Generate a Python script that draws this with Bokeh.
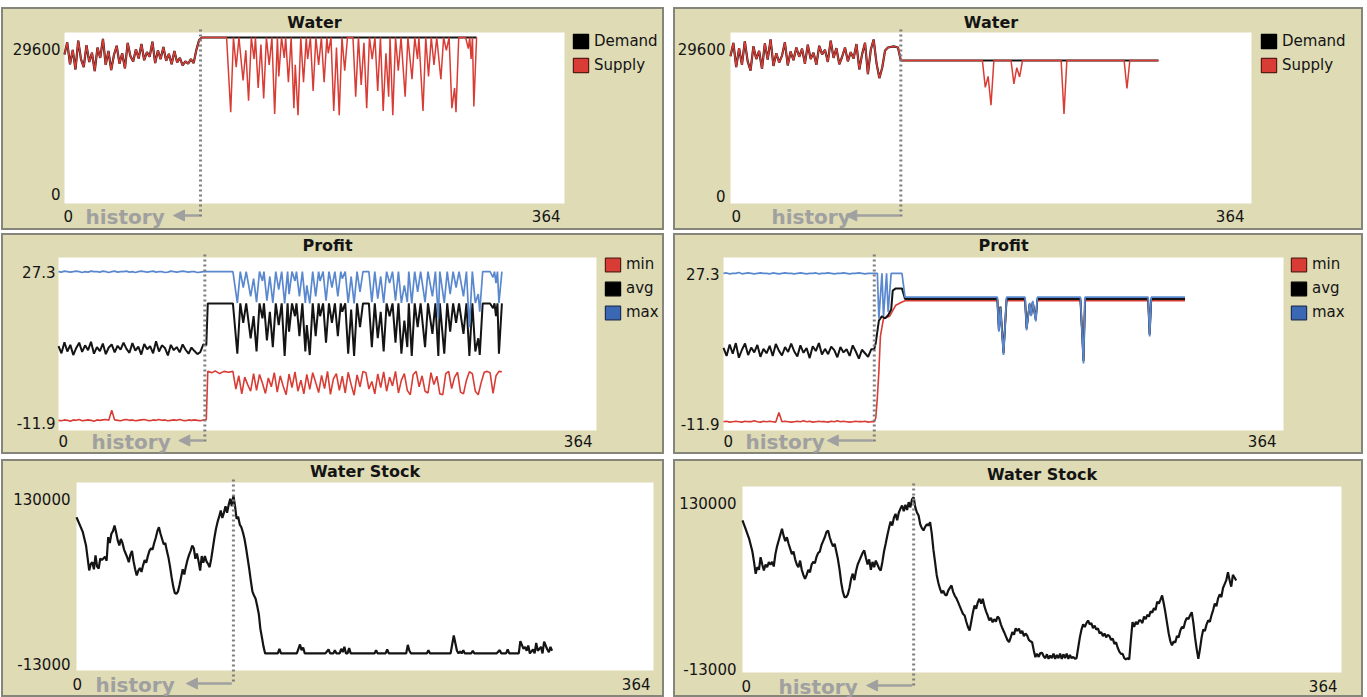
from bokeh.plotting import figure
from bokeh.layouts import column, row
from bokeh.models import (Range1d, Label, Arrow, NormalHead, Legend, LegendItem,
                          BoxAnnotation, Spacer)
from bokeh.embed import file_html
from bokeh.resources import INLINE

X_MAX = 364
x_ticks = [0, 364]

# ---------------- Water (run A) ----------------
water_y_ticks = [0, 29600]
water_hist_days_A = list(range(0, 100, 2))
water_hist_A = [25800, 27900, 24100, 26600, 23200, 28200, 25000, 23600, 27400, 24500,
                26100, 22900, 27000, 25200, 28500, 24000, 26400, 23100, 25700, 27300,
                24200, 26000, 23400, 27800, 25500, 24600, 26700, 25100, 27600, 24800,
                26200, 25400, 28000, 24300, 26500, 25000, 27100, 24700, 25900, 24100,
                26400, 24400, 25200, 23900, 24600, 24200, 25000, 24300, 26600, 28300]
demand_days_A = [100, 300]
demand_A = [28735, 28735]
supply_days_A = [100, 118, 121, 123, 125, 127, 130, 132, 134, 136, 138, 139, 141, 143, 145, 147,
                 149, 151, 153, 155, 156, 158, 160, 161, 163, 165, 167, 168, 170, 172, 174, 176,
                 177, 179, 181, 183, 185, 187, 189, 191, 192, 194, 196, 198, 200, 202, 204, 206,
                 210, 212, 214, 216, 218, 220, 222, 224, 226, 228, 230, 232, 234, 236, 237, 239,
                 241, 243, 245, 248, 250, 253, 255, 257, 258, 261, 263, 265, 267, 269, 271, 274,
                 276, 278, 280, 282, 284, 285, 287, 292, 294, 295, 296, 297, 298, 300]
supply_A = [28735, 28735, 15800, 28735, 23600, 28735, 21300, 26500, 17800, 28735, 25000, 28735,
            20000, 27500, 18200, 28735, 24000, 28735, 15500, 28735, 22000, 28735, 25200, 28735,
            21000, 28735, 16500, 24000, 15300, 28735, 21000, 28735, 25000, 28735, 19500, 28735,
            24000, 28735, 21000, 28735, 26000, 28735, 16000, 27000, 15300, 28735, 23000, 28735,
            28735, 18500, 28735, 20500, 27800, 16500, 28735, 25000, 28735, 19500, 28735, 16000,
            26000, 18500, 28735, 15300, 28735, 23000, 28735, 18500, 28735, 21500, 28735, 25000,
            28735, 16000, 28735, 22000, 28735, 24000, 28735, 21500, 28735, 26500, 28735, 16500,
            20000, 15800, 28735, 28735, 26800, 28735, 25000, 28735, 16800, 28735]

# ---------------- Water (run B) ----------------
water_hist_days_B = list(range(0, 106, 2))
water_hist_B = [25500, 27800, 23600, 26900, 24000, 28100, 24600, 23000, 27200, 25000,
                26400, 23300, 27700, 24900, 28400, 23800, 26000, 24400, 25600, 27900,
                23900, 26300, 24800, 27000, 25400, 26800, 24200, 27500, 25000, 26100,
                24000, 27300, 25800, 26600, 24500, 28200, 25200, 26900, 24100, 25400,
                27000, 24600, 26200, 25100, 27600, 23200, 25900, 27800, 22400, 26600,
                28400, 24300, 21700]
demand_days_B = [106, 108, 110, 114, 117, 119, 299]
demand_B = [23500, 26500, 27000, 27200, 27000, 24750, 24750]
supply_days_B = [106, 108, 110, 114, 117, 119, 176, 178, 180, 182, 184, 196, 198, 200, 202,
                 204, 231, 233, 235, 275, 277, 279, 299]
supply_B = [23500, 26500, 27000, 27200, 27000, 24750, 24750, 20100, 22000, 17000, 24750,
            24750, 20700, 23500, 21900, 24750, 24750, 15500, 24750, 24750, 19900, 24750, 24750]

# ---------------- Profit (run A) ----------------
profit_y_ticks = [-11.9, 27.3]
profit_hist_days_A = list(range(0, 100, 2))
max_hist_A = [24.1, 24.0, 24.2, 24.1, 24.0, 24.1, 24.2, 24.1, 23.9, 24.1, 24.0, 24.2, 24.1,
              24.1, 24.0, 24.2, 24.1, 23.9, 24.1, 24.2, 24.0, 24.1, 24.1, 24.2, 24.0, 24.1,
              23.9, 24.1, 24.2, 24.1, 24.0, 24.1, 24.2, 24.0, 24.1, 24.1, 23.9, 24.0, 24.2,
              24.1, 24.0, 24.1, 24.2, 24.1, 24.0, 24.1, 24.1, 23.9, 24.0, 24.1]
avg_hist_A = [7.2, 5.6, 8.1, 6.0, 7.5, 5.2, 6.8, 8.0, 5.9, 7.4, 6.3, 8.2, 5.5, 7.0, 6.1, 7.8,
              5.4, 6.9, 7.6, 5.8, 7.3, 6.4, 8.0, 6.6, 5.7, 7.9, 6.2, 7.1, 5.3, 7.7, 6.5, 7.2,
              5.6, 8.3, 6.0, 7.4, 6.8, 5.1, 7.5, 6.3, 7.0, 5.8, 7.6, 6.4, 5.5, 6.9, 6.1, 5.4,
              5.9, 7.6]
min_hist_A = [-9.6, -9.7, -9.5, -9.6, -9.8, -9.5, -9.6, -9.4, -9.7, -9.6, -9.5, -9.6, -9.8,
              -9.5, -9.6, -9.5, -9.4, -9.6, -7.3, -9.5, -9.6, -9.7, -9.5, -9.4, -9.6, -9.5,
              -9.7, -9.6, -9.5, -9.4, -9.6, -9.7, -9.5, -9.6, -9.4, -9.6, -9.5, -9.7, -9.6,
              -9.5, -9.6, -9.4, -9.6, -9.7, -9.5, -9.6, -9.5, -9.6, -9.7, -9.5]
dip_days_A = [100, 118, 121, 123, 125, 127, 130, 132, 134, 136, 138, 139, 141, 143, 145, 147,
              149, 151, 153, 155, 156, 158, 160, 161, 163, 165, 167, 168, 170, 172, 174, 176,
              177, 179, 181, 183, 185, 187, 189, 191, 192, 194, 196, 198, 200, 202, 204, 206,
              210, 212, 214, 216, 218, 220, 222, 224, 226, 228, 230, 232, 234, 236, 237, 239,
              241, 243, 245, 248, 250, 253, 255, 257, 258, 261, 263, 265, 267, 269, 271, 274,
              276, 278, 280, 282, 284, 285, 287, 292, 294, 295, 296, 297, 298, 300]
max_A = [24.1, 24.1, 17.0, 24.1, 20.5, 24.1, 18.5, 22.5, 17.2, 24.1, 22.0, 24.1, 17.5, 23.0,
         17.0, 24.1, 20.0, 24.1, 16.9, 24.1, 19.0, 24.1, 22.0, 24.1, 18.5, 24.1, 17.0, 21.0,
         16.9, 24.1, 18.5, 24.1, 22.0, 24.1, 17.5, 24.1, 20.5, 24.1, 18.5, 24.1, 22.5, 24.1,
         17.0, 23.0, 16.9, 24.1, 19.5, 24.1, 24.1, 17.2, 24.1, 18.0, 23.0, 17.0, 24.1, 21.5,
         24.1, 17.5, 24.1, 17.0, 21.0, 17.2, 24.1, 16.9, 24.1, 19.5, 24.1, 17.2, 24.1, 18.5,
         24.1, 13.5, 24.1, 17.0, 24.1, 19.0, 24.1, 20.5, 24.1, 18.5, 24.1, 11.5, 24.1, 17.0,
         19.0, 15.0, 24.1, 24.1, 22.8, 24.1, 21.5, 24.1, 17.0, 24.1]
avg_days_A = [100, 101] + dip_days_A[1:]
avg_A = [7.4, 16.9, 16.9, 5.5, 16.9, 12.5, 16.9, 9.0, 14.0, 6.0, 16.9, 13.5, 16.9, 8.5, 15.0,
         7.0, 16.9, 12.0, 16.9, 5.0, 16.9, 10.5, 16.9, 14.0, 16.9, 9.5, 16.9, 6.0, 12.0, 5.2,
         16.9, 9.5, 16.9, 14.0, 16.9, 8.0, 16.9, 12.5, 16.9, 9.5, 16.9, 15.0, 16.9, 5.5, 15.5,
         5.0, 16.9, 11.5, 16.9, 16.9, 7.0, 16.9, 9.0, 15.0, 6.0, 16.9, 14.0, 16.9, 8.0, 16.9,
         5.5, 13.0, 7.0, 16.9, 5.0, 16.9, 11.5, 16.9, 7.0, 16.9, 10.0, 16.9, 5.0, 16.9, 5.5,
         16.9, 10.5, 16.9, 12.5, 16.9, 10.0, 16.9, 5.0, 16.9, 6.0, 9.0, 5.2, 16.9, 16.9, 15.8,
         16.9, 14.0, 16.9, 5.5, 16.9]
min_days_A = [100, 101, 104, 106, 109, 112, 115, 118] + list(range(120, 302, 2))
min_A = [-9.4, 1.5, 1.2, 1.6, 1.0, 1.5, 1.3, 1.5,
         -2.5, 0.5, -3.6, 0.2, -1.5, -3.0, 1.0, -2.8, 0.8, -1.2, -3.5, 0.0, -2.0, 1.2, -3.2,
         0.5, -1.8, -3.8, 0.9, -2.2, 1.4, -3.0, -0.5, -3.6, 0.8, -2.6, 1.2, -1.0, -3.3, 0.6,
         -2.4, 1.5, -3.7, -0.2, 1.0, -2.8, 0.4, -3.4, 1.3, -1.5, -3.9, 0.7, -2.0, 1.5, 1.2,
         -2.5, -0.8, -3.6, 0.9, -2.2, 1.4, -3.0, 0.2, -1.8, 1.5, -3.4, -0.5, 1.0, -2.8, -3.8,
         0.8, 1.5, -2.0, 0.5, -3.0, -3.4, 1.2, -1.5, 0.4, -3.6, -3.8, 1.0, 1.5, -2.4, 0.2,
         1.3, -3.2, -3.6, -0.5, 1.4, 1.0, -3.0, -3.8, -1.0, 1.3, 1.5, 1.2, -3.5, 0.5, 1.5, 1.4]

# ---------------- Profit (run B) ----------------
profit_hist_days_B = list(range(0, 98, 2))
max_hist_B = [23.7, 23.8, 23.6, 23.7, 23.7, 23.9, 23.6, 23.7, 23.8, 23.7, 23.6, 23.7, 23.8,
              23.7, 23.7, 23.6, 23.8, 23.7, 23.6, 23.7, 23.8, 23.7, 23.7, 23.6, 23.7, 23.8,
              23.7, 23.6, 23.7, 23.7, 23.8, 23.6, 23.7, 23.7, 23.8, 23.7, 23.6, 23.7, 23.7,
              23.8, 23.7, 23.6, 23.7, 23.7, 23.8, 23.7, 23.6, 23.7, 23.7]
avg_hist_B = [6.8, 5.0, 7.6, 5.5, 7.9, 4.6, 6.4, 7.8, 5.2, 6.9, 5.8, 7.5, 4.8, 6.6, 5.6, 7.3,
              5.0, 7.7, 6.2, 5.1, 7.0, 5.9, 7.8, 6.0, 4.9, 7.4, 5.7, 6.8, 4.5, 7.2, 6.1, 7.9,
              5.3, 6.6, 5.4, 7.1, 6.3, 4.7, 7.0, 5.8, 6.5, 5.0, 7.4, 6.0, 4.4, 6.4, 5.6, 4.8,
              6.5]
min_hist_B = [-9.9, -9.8, -10.0, -9.9, -9.8, -9.9, -10.0, -9.8, -9.9, -9.9, -9.7, -9.9, -10.0,
              -9.8, -9.9, -9.8, -9.9, -10.0, -7.8, -9.9, -9.8, -9.9, -10.0, -9.9, -9.8, -9.9,
              -9.7, -9.9, -9.8, -10.0, -9.9, -9.8, -9.9, -9.9, -10.0, -9.8, -9.9, -9.7, -9.9,
              -9.8, -9.9, -10.0, -9.9, -9.8, -9.9, -9.9, -9.8, -10.0, -9.9]
max_days_B = [98, 100, 101, 103, 104, 106, 107, 109, 116, 118, 178, 179, 180, 182, 184, 196,
              197, 199, 200, 201, 203, 204, 232, 234, 235, 276, 277, 278, 300]
max_B = [23.7, 23.7, 13.5, 23.7, 14.0, 23.7, 15.0, 23.7, 23.7, 18.3, 18.3, 10.5, 16.0, 5.2,
         18.3, 18.3, 10.8, 17.0, 14.0, 17.5, 12.8, 18.3, 18.3, 3.3, 18.3, 18.3, 9.4, 18.3, 18.3]
avg_days_B = [98, 99, 100, 101, 103, 105, 107, 109, 110, 112, 116, 118, 178, 179, 180, 182,
              184, 196, 197, 199, 200, 201, 203, 204, 232, 234, 235, 276, 277, 278, 300]
avg_B = [6.5, 8.0, 10.5, 13.0, 14.0, 13.5, 14.2, 15.5, 19.8, 20.3, 20.3, 17.9, 17.9, 10.8,
         16.2, 5.6, 17.9, 17.9, 11.2, 16.8, 14.3, 17.2, 13.2, 17.9, 17.9, 3.8, 17.9, 17.9,
         9.8, 17.9, 17.9]
min_days_B = [98, 99, 100, 101, 102, 104, 108, 112, 116, 118, 178, 179, 180, 182, 184, 196,
              197, 199, 200, 201, 203, 204, 232, 234, 235, 276, 277, 278, 300]
min_B = [-9.9, -9.0, -4.5, 1.5, 9.5, 13.5, 14.0, 16.5, 17.2, 17.5, 17.5, 11.0, 16.0, 5.8,
         17.5, 17.5, 11.4, 16.6, 14.5, 17.0, 13.5, 17.5, 17.5, 4.2, 17.5, 17.5, 10.1, 17.5, 17.5]

# ---------------- Water stock ----------------
stock_y_ticks = [-13000, 130000]
stock_A = [(0, 103600), (2, 98000), (4, 92200), (6, 82100), (8, 63100), (9, 68000), (10, 69400),
           (11, 64000), (12, 74500), (13, 66000), (14, 64600), (15, 72200), (16, 71000),
           (18, 73500), (19, 70500), (20, 88400), (21, 84000), (22, 91000), (23, 93000),
           (24, 97300), (25, 92000), (26, 86000), (27, 82100), (28, 87000), (29, 84000),
           (30, 79000), (31, 76000), (32, 73000), (33, 69400), (34, 75000), (35, 78000),
           (36, 70000), (37, 64000), (38, 59300), (39, 63000), (40, 65000), (41, 62000),
           (42, 67000), (43, 71000), (44, 69000), (45, 74000), (46, 78000), (47, 80000),
           (48, 79000), (49, 84000), (50, 88000), (51, 93000), (52, 96000), (53, 91000),
           (54, 87000), (55, 83000), (56, 84000), (57, 78000), (58, 73000), (59, 66000),
           (60, 58000), (61, 51000), (62, 46000), (63, 45300), (64, 47000), (65, 52000),
           (66, 58000), (67, 64000), (68, 60000), (69, 66000), (70, 71000), (71, 75000),
           (72, 78000), (73, 82100), (74, 80000), (75, 72000), (76, 76000), (77, 70000),
           (78, 63000), (79, 74000), (80, 69000), (81, 74000), (82, 70000), (83, 68000),
           (84, 65600), (85, 72000), (86, 80000), (87, 88000), (88, 94800), (89, 100000),
           (90, 104000), (91, 108700), (92, 103000), (93, 107000), (94, 112000), (95, 107000),
           (96, 113000), (97, 117600), (98, 112000), (99, 120100), (100, 112000),
           (101, 102400), (102, 104000), (103, 98000), (104, 96000), (105, 92000),
           (106, 87000), (107, 80000), (108, 72000), (109, 64000), (110, 55000), (111, 47000),
           (112, 44000), (113, 41500), (114, 36000), (115, 30000), (116, 18700), (117, 12000),
           (118, 5000), (119, 0), (127, 0), (128, 3500), (129, 0), (139, 0), (141, 6800),
           (142, 2500), (143, 4500), (144, 0), (157, 0), (159, 3000), (160, 0), (162, 0),
           (163, 2500), (164, 0), (166, 0), (167, 3500), (168, 1000), (169, 5000), (170, 0),
           (171, 0), (172, 4000), (173, 0), (188, 0), (189, 2500), (190, 0), (195, 0),
           (196, 3000), (197, 0), (208, 0), (209, 6500), (210, 2000), (211, 0), (221, 0),
           (222, 2500), (223, 0), (236, 0), (238, 13600), (240, 2000), (241, 0), (242, 1500),
           (243, 0), (244, 2500), (245, 0), (249, 0), (250, 2000), (251, 0), (265, 0),
           (267, 2500), (268, 0), (271, 0), (272, 3000), (273, 0), (279, 0), (280, 9300),
           (282, 3500), (283, 5000), (284, 2000), (285, 6000), (286, 0), (288, 3000), (289, 0),
           (290, 8000), (291, 2000), (293, 5000), (294, 0), (295, 9000), (297, 3000),
           (298, 1000), (299, 5000), (300, 2000)]
stock_B = [(0, 103900), (2, 97000), (4, 90000), (5, 85000), (6, 80000), (7, 72000), (8, 62900),
           (9, 68000), (10, 66000), (11, 75700), (12, 70000), (13, 65400), (14, 70000),
           (15, 68000), (16, 71800), (17, 70000), (18, 72000), (19, 68500), (20, 78000),
           (21, 84000), (22, 88500), (23, 93000), (24, 97500), (25, 92000), (26, 88000),
           (27, 91000), (28, 86000), (29, 82000), (30, 78000), (31, 80000), (32, 74000),
           (33, 70000), (34, 68000), (35, 73000), (36, 66000), (37, 62000), (38, 59000),
           (39, 62000), (40, 66000), (41, 64000), (42, 70000), (43, 72000), (44, 71000),
           (45, 76000), (46, 79000), (47, 80000), (48, 85000), (49, 88000), (50, 91000),
           (51, 95000), (52, 96200), (53, 91000), (54, 87000), (55, 84000), (56, 86000),
           (57, 80000), (58, 74000), (59, 66000), (60, 56000), (61, 49000), (62, 45000),
           (63, 44900), (64, 47000), (65, 52000), (66, 59000), (67, 63000), (68, 58000),
           (69, 65000), (70, 70000), (71, 73000), (72, 76000), (73, 79000), (74, 80800),
           (75, 75000), (76, 70000), (77, 74000), (78, 66000), (79, 72000), (80, 68000),
           (81, 73000), (82, 70000), (83, 67000), (84, 65400), (85, 72000), (86, 80000),
           (87, 86000), (88, 92300), (89, 98000), (90, 103000), (91, 100000), (92, 106000),
           (93, 109000), (94, 104000), (95, 110000), (96, 113000), (97, 115400), (98, 111000),
           (99, 116000), (100, 112000), (101, 118000), (102, 114000), (103, 120000),
           (104, 121800), (105, 114000), (106, 110000), (107, 107700), (108, 101000),
           (109, 98000), (110, 96200), (111, 99000), (112, 101000), (113, 100000),
           (114, 102600), (115, 94000), (116, 81600), (117, 72000), (118, 62000), (119, 56000),
           (120, 51400), (121, 48000), (122, 50000), (123, 47000), (124, 46200), (125, 50000),
           (126, 52000), (127, 53900), (128, 49000), (129, 46000), (130, 44000), (131, 41100),
           (132, 38000), (133, 35000), (134, 32000), (135, 30800), (136, 26000), (137, 22000),
           (138, 19300), (139, 26000), (140, 33000), (141, 38600), (142, 36000), (143, 41000),
           (144, 43700), (145, 40000), (146, 43700), (147, 38000), (148, 34000), (149, 30800),
           (150, 27000), (151, 29000), (152, 25600), (153, 28000), (154, 26000), (155, 30000),
           (156, 28500), (157, 24000), (158, 20800), (159, 18000), (160, 15000), (161, 12000),
           (162, 10300), (163, 14000), (164, 18000), (165, 16000), (166, 21000), (167, 19000),
           (168, 20800), (169, 17000), (170, 19000), (171, 15000), (172, 17000), (173, 15400),
           (174, 12000), (175, 11000), (176, 10300), (177, 4000), (178, -1200), (179, 1500),
           (180, -1000), (181, 2000), (182, 2200), (183, -500), (184, -2000), (185, 1000),
           (186, -2500), (187, 0), (188, -2000), (189, 1500), (190, -2500), (191, 500),
           (192, -2000), (193, 1500), (194, -2500), (195, 1000), (196, -2000), (197, 1500),
           (198, -2500), (199, 500), (200, -2000), (201, -1000), (202, -2500), (203, -2000),
           (204, 6000), (205, 14000), (206, 20000), (207, 24000), (208, 22000), (209, 25000),
           (210, 27000), (211, 24000), (212, 25000), (213, 21000), (214, 23000), (215, 20000),
           (216, 21000), (217, 17000), (218, 18000), (219, 15000), (220, 17000), (221, 14000),
           (222, 16000), (223, 15000), (224, 12000), (225, 13000), (226, 9000), (227, 10300),
           (228, 6000), (229, 3000), (230, 1300), (231, 1300), (232, -2000), (233, -3000),
           (234, -2000), (235, -3000), (236, 12000), (237, 25700), (238, 22000), (239, 26000),
           (240, 24000), (241, 27000), (242, 27000), (243, 25000), (244, 30000), (245, 28000),
           (246, 31300), (247, 30000), (248, 34000), (249, 33000), (250, 36400), (251, 35000),
           (252, 41500), (253, 40000), (254, 43000), (255, 46200), (256, 40000), (257, 33000),
           (258, 25000), (259, 17000), (260, 11000), (261, 7800), (262, 11000), (263, 10000),
           (264, 15000), (265, 14000), (266, 19000), (267, 22000), (268, 21000), (269, 26000),
           (270, 29000), (271, 28000), (272, 31000), (273, 33400), (274, 25000), (275, 14000),
           (276, 5000), (277, -2500), (278, 5000), (279, 14000), (280, 20000), (281, 19000),
           (282, 24000), (283, 27000), (284, 26000), (285, 31000), (286, 35000), (287, 40000),
           (288, 38000), (289, 44000), (290, 47000), (291, 45000), (292, 52000), (293, 55000),
           (294, 58000), (295, 64100), (296, 58000), (297, 53000), (298, 62000), (299, 60000),
           (300, 57700)]

# day on which the recorded history ends, per plot
history_end = {"water_A": 99, "water_B": 119, "profit_A": 99, "profit_B": 98,
               "stock_A": 99, "stock_B": 104}

# ---------------- styling ----------------
BEIGE = "#dedbb5"
EDGE = "#85857a"
INK = "#141414"
RED = "#d83c34"
BLUE = "#5a88cf"
GRAY = "#a0a0a0"
DOTS = "#7f7f7f"
FONT = "DejaVu Sans"
NAN = float("nan")


def make_panel(W, H, l, t, w, h, lo, hi):
    """Panel of W x H px whose white plot area (l, t, w, h) spans 0..364 x lo..hi."""
    sx = X_MAX / w
    sy = (hi - lo) / h
    p = figure(width=W, height=H,
               x_range=Range1d(-l * sx, (W - l) * sx),
               y_range=Range1d(lo - (H - t - h) * sy, hi + t * sy),
               output_backend="svg", toolbar_location=None,
               x_axis_location=None, y_axis_location=None, min_border=0,
               background_fill_color=BEIGE, border_fill_color=BEIGE,
               outline_line_color=EDGE, outline_line_width=3)
    p.xgrid.visible = False
    p.ygrid.visible = False
    p.add_layout(BoxAnnotation(left=0, right=X_MAX, bottom=lo, top=hi, fill_color="white",
                               fill_alpha=1.0, line_color=None, level="underlay"))
    return p, sx, sy


def label(p, x, y, s, dx=0, dy=0, align="left", baseline="middle", size="15px",
          color=INK, bold=False, font=FONT):
    p.add_layout(Label(x=x, y=y, text=s, x_offset=dx, y_offset=dy, text_align=align,
                       text_baseline=baseline, text_font=font, text_font_size=size,
                       text_color=color, text_font_style="bold" if bold else "normal"))


def decorate(p, sx, sy, lo, hi, title, y_labels, yl, xl, hist, hist_dx, arrow_px, title_dy):
    label(p, X_MAX / 2, hi, title, dy=title_dy, align="center", size="16px", bold=True)
    # axis end labels
    label(p, 0, hi, y_labels[1], dx=yl[0], dy=yl[1], align="right")
    label(p, 0, lo, y_labels[0], dx=yl[0], dy=yl[2], align="right")
    label(p, x_ticks[0], lo, str(x_ticks[0]), dx=xl[0], dy=xl[2], align="left")
    label(p, x_ticks[1], lo, str(x_ticks[1]), dx=xl[1], dy=xl[2], align="right")
    # history marker
    p.add_layout(Arrow(x_start=hist, y_start=hi + 3 * sy, x_end=hist, y_end=lo - 14 * sy,
                       start=None, end=None, line_color=DOTS, line_width=3,
                       line_dash="2 3"))
    label(p, 0, lo, "history", dx=hist_dx, dy=xl[2] - 1, align="left", size="20px",
          color=GRAY, bold=True)
    p.add_layout(Arrow(x_start=hist - 1, y_start=lo + xl[2] * sy, x_end=hist - arrow_px * sx,
                       y_end=lo + xl[2] * sy, line_color=GRAY, line_width=2.5,
                       end=NormalHead(size=11, fill_color=GRAY, line_color=GRAY)))


def legend(p, entries, loc, gh, gap):
    items = []
    for name, fill, edge in entries:
        # a swatch-only renderer: its single box has no coordinates, so only the key shows
        r = p.quad(left=[NAN], right=[NAN], bottom=[NAN], top=[NAN], fill_color=fill,
                   line_color=edge, line_width=1.2)
        items.append(LegendItem(label=name, renderers=[r]))
    p.add_layout(Legend(items=items, location=loc, orientation="vertical", glyph_width=19,
                        glyph_height=gh, label_height=gh, spacing=gap, padding=0, margin=0,
                        border_line_color=None, background_fill_alpha=0.0,
                        label_text_font=FONT, label_text_font_size="15px",
                        label_text_color=INK, label_standoff=4))


# ---------- Water A ----------
lo, hi = water_y_ticks
p1, sx, sy = make_panel(663, 223, 63, 25, 500, 171, lo, hi)
p1.line(water_hist_days_A + demand_days_A, water_hist_A + demand_A, color=INK, line_width=2.2)
p1.line(water_hist_days_A + supply_days_A, water_hist_A + supply_A, color=RED, line_width=1.5)
decorate(p1, sx, sy, lo, hi, "Water", ["0", "29600"], (-4, -16, 10), (-1, -4, -12),
         history_end["water_A"], 21, 27, 10)
legend(p1, [("Demand", "#000000", "#000000"), ("Supply", RED, "#5a1a16")], (570, 156), 18, 6)

# ---------- Water B ----------
p2, sx, sy = make_panel(690, 223, 57, 25, 521, 171, lo, hi)
p2.line(water_hist_days_B + demand_days_B, water_hist_B + demand_B, color=INK, line_width=2.2)
p2.line(water_hist_days_B + supply_days_B, water_hist_B + supply_B, color=RED, line_width=1.5)
decorate(p2, sx, sy, lo, hi, "Water", ["0", "29600"], (-5, -16, 8), (1, -7, -12),
         history_end["water_B"], 41, 55, 10)
legend(p2, [("Demand", "#000000", "#000000"), ("Supply", RED, "#5a1a16")], (586, 156), 18, 6)

# ---------- Profit A ----------
lo, hi = profit_y_ticks
p3, sx, sy = make_panel(663, 221, 57, 24, 538, 173, lo, hi)
p3.line(profit_hist_days_A + min_days_A, min_hist_A + min_A, color=RED, line_width=1.6)
p3.line(profit_hist_days_A + avg_days_A, avg_hist_A + avg_A, color=INK, line_width=2.0)
p3.line(profit_hist_days_A + dip_days_A, max_hist_A + max_A, color=BLUE, line_width=1.7)
decorate(p3, sx, sy, lo, hi, "Profit", ["-11.9", "27.3"], (-3, -14, 8), (0, -4, -10),
         history_end["profit_A"], 33, 26, 12)
legend(p3, [("min", RED, "#5a1a16"), ("avg", "#000000", "#000000"), ("max", "#3a68b4", "#1d2f55")],
       (602, 133), 17, 6)

# ---------- Profit B ----------
p4, sx, sy = make_panel(690, 221, 50, 24, 560, 173, lo, hi)
p4.line(profit_hist_days_B + min_days_B, min_hist_B + min_B, color=RED, line_width=1.6)
p4.line(profit_hist_days_B + avg_days_B, avg_hist_B + avg_B, color=INK, line_width=2.0)
p4.line(profit_hist_days_B + max_days_B, max_hist_B + max_B, color=BLUE, line_width=1.7)
decorate(p4, sx, sy, lo, hi, "Profit", ["-11.9", "27.3"], (-4, -16, 7), (0, -7, -10),
         history_end["profit_B"], 22, 47, 12)
legend(p4, [("min", RED, "#5a1a16"), ("avg", "#000000", "#000000"), ("max", "#3a68b4", "#1d2f55")],
       (616, 133), 17, 6)

# ---------- Water stock A ----------
lo, hi = stock_y_ticks
p5, sx, sy = make_panel(663, 238, 75, 23, 577, 188, lo, hi)
days, vals = zip(*stock_A)
p5.line(list(days), list(vals), color=INK, line_width=2.2)
decorate(p5, sx, sy, lo, hi, "Water Stock", ["-13000", "130000"], (-6, -16, 7), (-4, -3, -13),
         history_end["stock_A"], 19, 47, 11)

# ---------- Water stock B ----------
p6, sx, sy = make_panel(690, 238, 69, 27, 599, 186, lo, hi)
days, vals = zip(*stock_B)
p6.line(list(days), list(vals), color=INK, line_width=2.2)
decorate(p6, sx, sy, lo, hi, "Water Stock", ["-13000", "130000"], (-6, -16, 4), (-1, -4, -13),
         history_end["stock_B"], 36, 47, 12)

layout = column(
    Spacer(height=7),
    row(Spacer(width=1), p1, Spacer(width=9), p2),
    Spacer(height=3),
    row(Spacer(width=1), p3, Spacer(width=9), p4),
    Spacer(height=5),
    row(Spacer(width=1), p5, Spacer(width=9), p6),
)

open("out.html", "w").write(file_html(layout, INLINE))
